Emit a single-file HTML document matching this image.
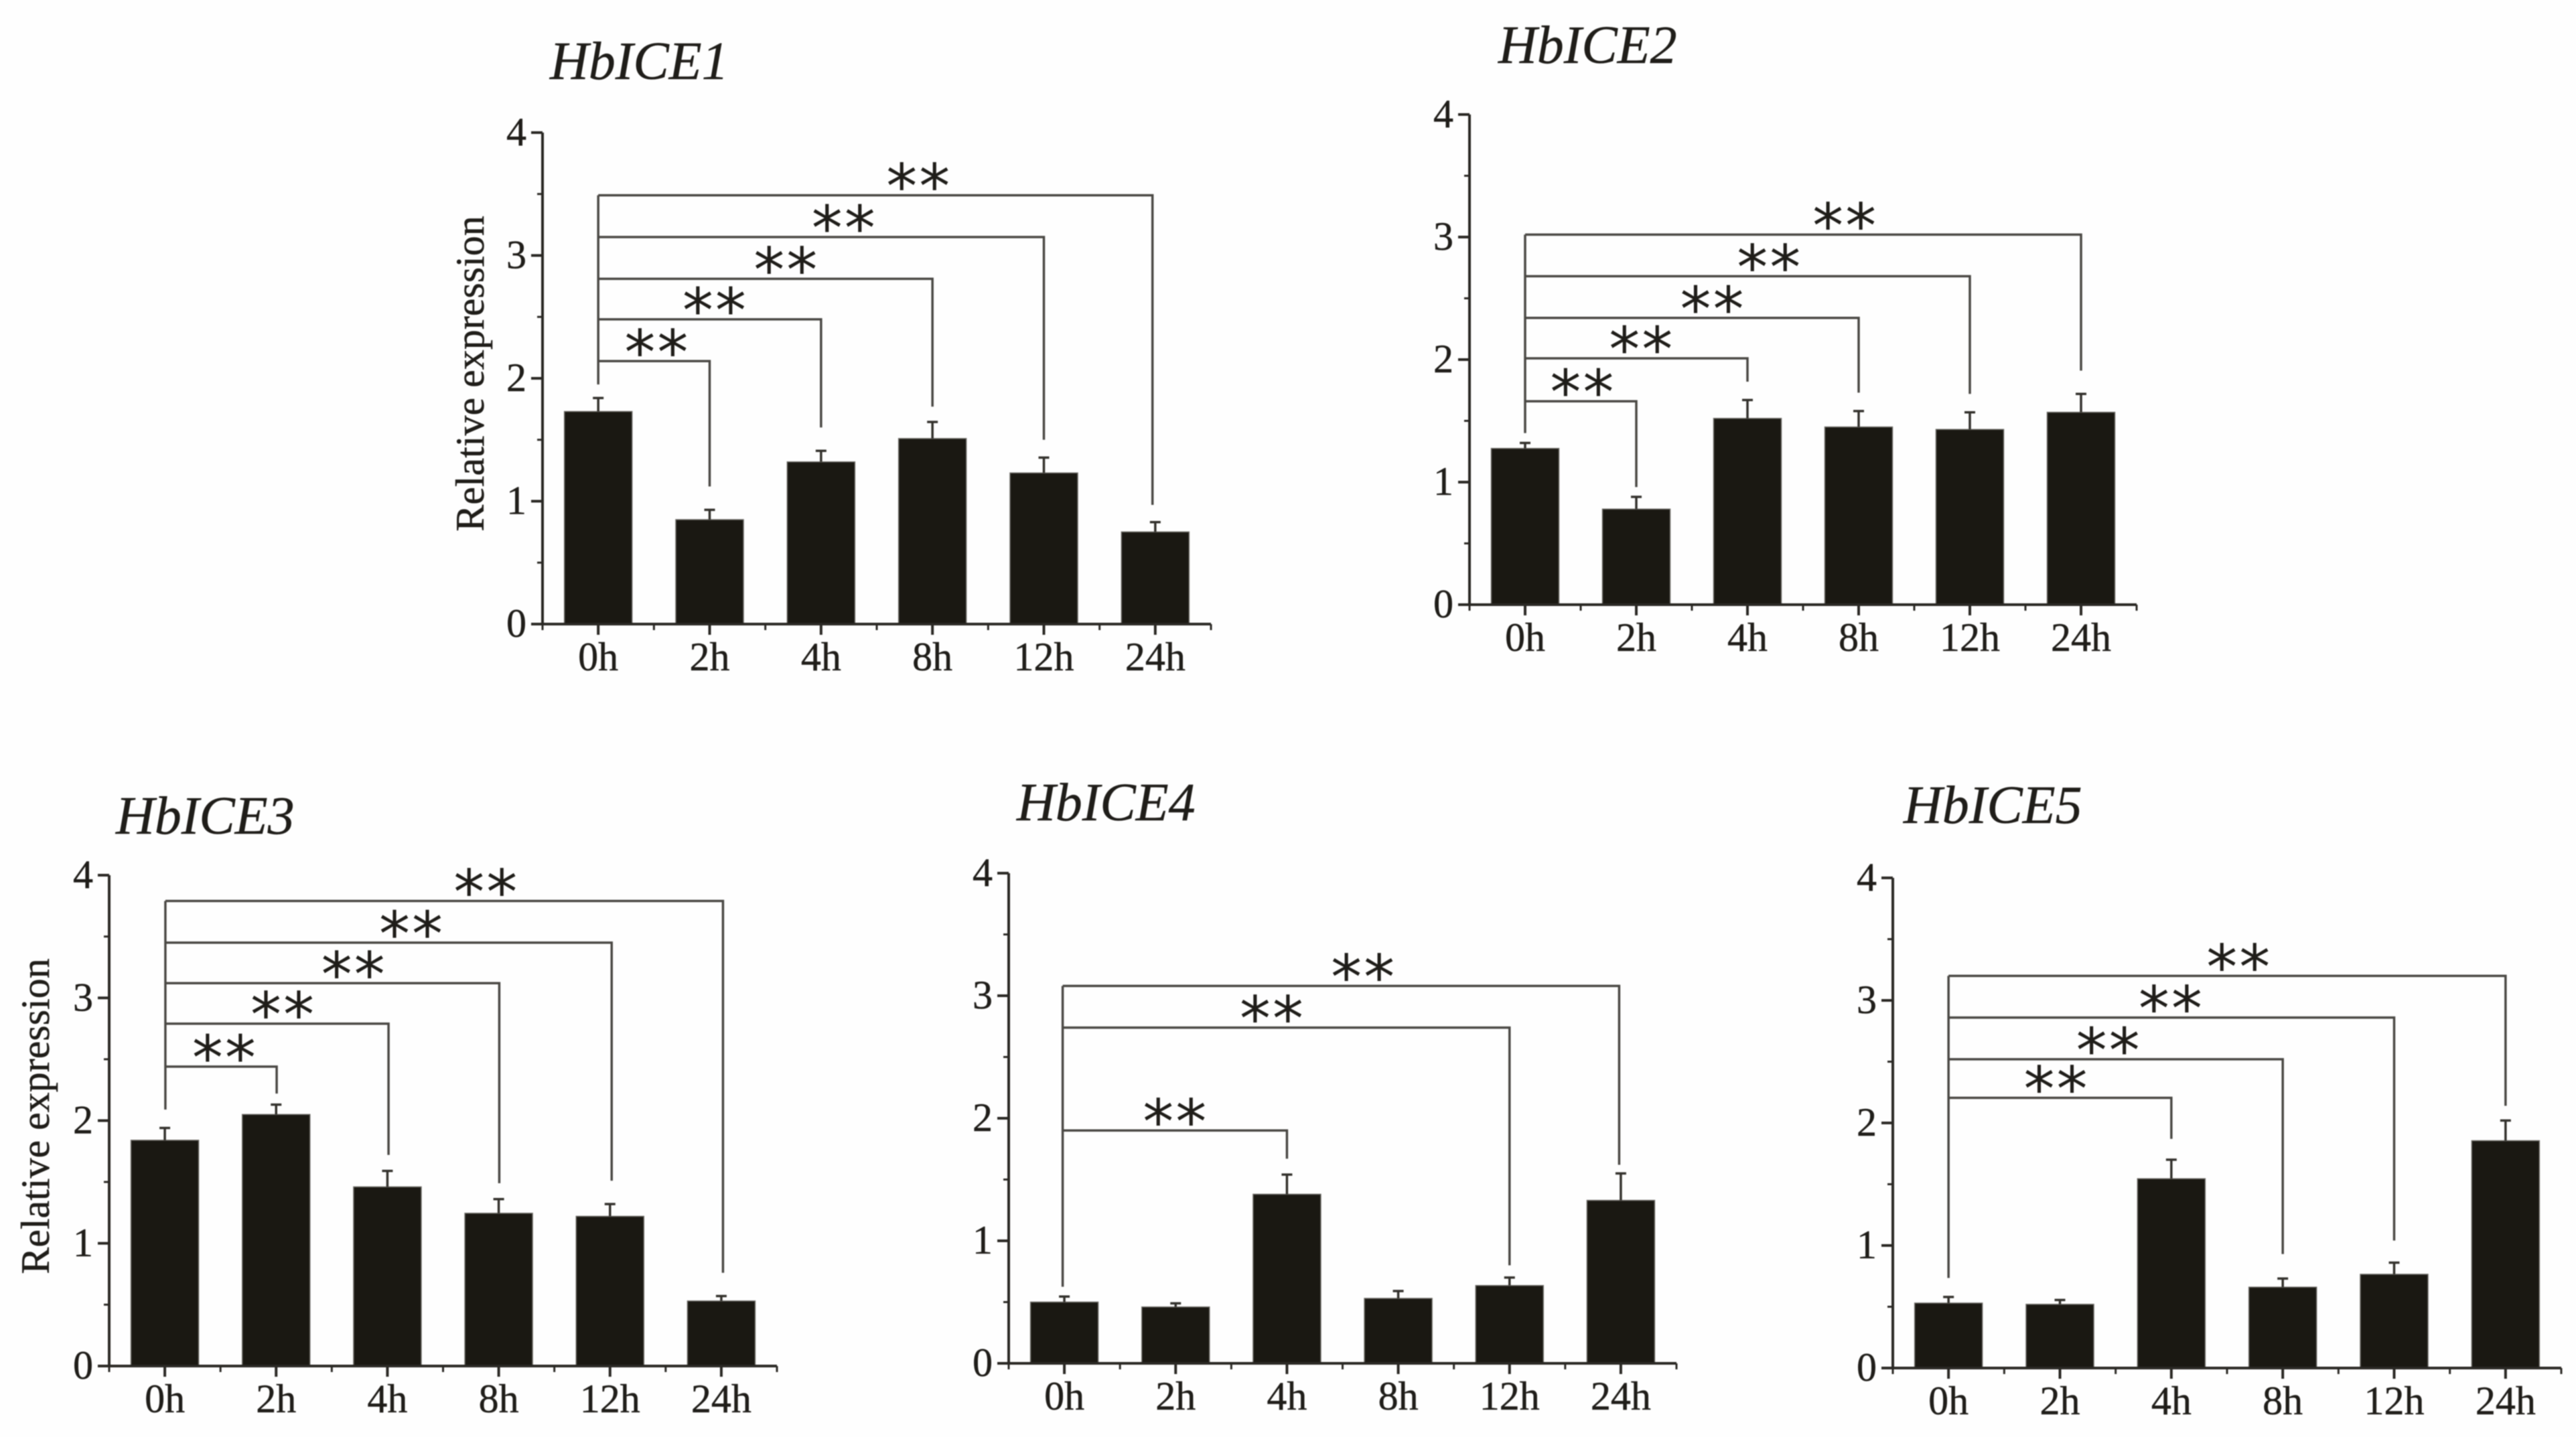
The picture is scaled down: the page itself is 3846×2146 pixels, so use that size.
<!DOCTYPE html>
<html lang="en">
<head>
<meta charset="utf-8">
<title>HbICE relative expression charts</title>
<style>
  html, body { margin: 0; padding: 0; background: #fefefe; }
  body { width: 3846px; height: 2146px; overflow: hidden; }
  svg { display: block; filter: blur(0.9px); }
  text { font-family: "Liberation Serif", "Times New Roman", serif; fill: #1f1d19; stroke: #1f1d19; stroke-width: 0.5px; }
  .title { font-size: 80px; font-style: italic; }
  .tick { font-size: 60px; }
  .ytitle { font-size: 60px; text-anchor: middle; }
  .stars { font-family: "DejaVu Sans", sans-serif; font-size: 92px; letter-spacing: 3px; text-anchor: middle; fill: #1f1d19; stroke: none; }
</style>
</head>
<body>
<svg id="figure" width="3846" height="2146" viewBox="0 0 3846 2146" xmlns="http://www.w3.org/2000/svg">
  <rect width="3846" height="2146" fill="#fefefe"/>
  <g id="p1">
    <text class="title" x="821" y="118">HbICE1</text>
    <text class="ytitle" transform="translate(722 558) rotate(-90)">Relative expression</text>
  </g>
  <g id="p2">
    <text class="title" x="2237" y="94">HbICE2</text>
  </g>
  <g id="p3">
    <text class="title" x="173" y="1245">HbICE3</text>
    <text class="ytitle" transform="translate(73 1667) rotate(-90)">Relative expression</text>
  </g>
  <g id="p4">
    <text class="title" x="1518" y="1225">HbICE4</text>
  </g>
  <g id="p5">
    <text class="title" x="2842" y="1229">HbICE5</text>
  </g>
</svg>
<script>
const categories = ['0h', '2h', '4h', '8h', '12h', '24h'];
const yTickLabels = [0, 1, 2, 3, 4];
const yMinorTicks = [0.5, 1.5, 2.5, 3.5];
const significanceLabel = '**';

const ice1Values = [1.73, 0.85, 1.32, 1.51, 1.23, 0.75];
const ice1Errors = [0.11, 0.08, 0.09, 0.135, 0.125, 0.08];
const ice1Targets = [1, 2, 3, 4, 4.975];
const ice1Levels = [2.14, 2.48, 2.81, 3.15, 3.49];
const ice1StemEnds = [1.12, 1.60, 1.77, 1.50, 0.97];
const ice1Start = 0;
const ice1StartEnd = 1.95;
const ice1StarPositions = [0.53, 1.05, 1.69, 2.21, 2.88];

const ice2Values = [1.275, 0.78, 1.52, 1.45, 1.43, 1.57];
const ice2Errors = [0.045, 0.10, 0.15, 0.13, 0.14, 0.15];
const ice2Targets = [1, 2, 3, 4, 5];
const ice2Levels = [1.66, 2.01, 2.34, 2.68, 3.02];
const ice2StemEnds = [0.96, 1.82, 1.73, 1.72, 1.91];
const ice2Start = 0;
const ice2StartEnd = 1.40;
const ice2StarPositions = [0.52, 1.05, 1.69, 2.20, 2.88];

const ice3Values = [1.84, 2.05, 1.46, 1.245, 1.22, 0.53];
const ice3Errors = [0.10, 0.08, 0.13, 0.115, 0.10, 0.04];
const ice3Targets = [1.005, 2.01, 3.005, 4.015, 5.015];
const ice3Levels = [2.44, 2.79, 3.12, 3.45, 3.79];
const ice3StemEnds = [2.22, 1.72, 1.49, 1.51, 0.76];
const ice3Start = 0.005;
const ice3StartEnd = 2.09;
const ice3StarPositions = [0.54, 1.065, 1.70, 2.22, 2.89];

const ice4Values = [0.50, 0.46, 1.38, 0.53, 0.635, 1.33];
const ice4Errors = [0.045, 0.03, 0.16, 0.06, 0.065, 0.22];
const ice4Targets = [2, 4, 4.985];
const ice4Levels = [1.90, 2.74, 3.08];
const ice4StemEnds = [1.67, 0.80, 1.62];
const ice4Start = -0.015;
const ice4StartEnd = 0.625;
const ice4StarPositions = [1.0, 1.87, 2.69];

const ice5Values = [0.53, 0.52, 1.545, 0.66, 0.765, 1.855];
const ice5Errors = [0.05, 0.035, 0.155, 0.07, 0.095, 0.165];
const ice5Targets = [2, 3, 4, 5];
const ice5Levels = [2.205, 2.52, 2.86, 3.20];
const ice5StemEnds = [1.87, 0.93, 1.04, 2.14];
const ice5Start = 0;
const ice5StartEnd = 0.735;
const ice5StarPositions = [0.97, 1.44, 2.0, 2.61];

const NS = 'http://www.w3.org/2000/svg';
const AXIS = '#2a2824';
const BRACKET = '#4a4844';
const BAR = '#1a1812';

function mk(parent, tag, attrs, txt) {
  const el = document.createElementNS(NS, tag);
  for (const k in attrs) el.setAttribute(k, attrs[k]);
  if (txt !== undefined) el.textContent = txt;
  parent.appendChild(el);
  
  return el;
}

function drawPanel(id, frame, values, errors, targets, levels, stemEnds, start, startEnd, starPositions) {
  const root = document.getElementById(id);
  const yScale = v => frame.y0 + (frame.y4 - frame.y0) * v / 4;
  const step = (frame.x1 - frame.x0) / categories.length;
  const xScale = i => frame.x0 + (i + 0.5) * step;
  const barW = 101;
  let el;

  values.forEach((v, i) => {
    el = mk(root, 'rect', { x: xScale(i) - barW / 2, y: yScale(v), width: barW, height: frame.y0 - yScale(v), fill: BAR, stroke: '#6b6964', 'stroke-width': 1.5 });
    
    const top = yScale(v + errors[i]);
    el = mk(root, 'path', { d: 'M' + xScale(i) + ' ' + yScale(v) + 'V' + top + 'M' + (xScale(i) - 8) + ' ' + top + 'H' + (xScale(i) + 8), fill: 'none', stroke: '#33312c', 'stroke-width': 3.5 });
    
  });

  el = mk(root, 'path', { d: 'M' + frame.x0 + ' ' + frame.y4 + 'V' + frame.y0 + 'H' + frame.x1, fill: 'none', stroke: AXIS, 'stroke-width': 4 });
  

  yTickLabels.forEach(v => {
    const y = yScale(v);
    el = mk(root, 'line', { x1: frame.x0 - 17, x2: frame.x0, y1: y, y2: y, stroke: AXIS, 'stroke-width': 4 });
    
    el = mk(root, 'text', { class: 'tick', x: frame.x0 - 24, y: y + 19, 'text-anchor': 'end' }, String(v));
    
  });
  yMinorTicks.forEach(v => {
    const y = yScale(v);
    el = mk(root, 'line', { x1: frame.x0 - 8, x2: frame.x0, y1: y, y2: y, stroke: AXIS, 'stroke-width': 3 });
    
  });

  categories.forEach((c, i) => {
    const x = xScale(i);
    el = mk(root, 'line', { x1: x, x2: x, y1: frame.y0, y2: frame.y0 + 16, stroke: AXIS, 'stroke-width': 4 });
    
    el = mk(root, 'text', { class: 'tick', x: x, y: frame.y0 + 69, 'text-anchor': 'middle' }, c);
    
  });
  for (let i = 0; i <= categories.length; i++) {
    const x = frame.x0 + i * step;
    el = mk(root, 'line', { x1: x, x2: x, y1: frame.y0, y2: frame.y0 + 9, stroke: AXIS, 'stroke-width': 3 });
    
  }

  const startX = xScale(start);
  const topLevel = Math.max.apply(null, levels);
  el = mk(root, 'line', { x1: startX, x2: startX, y1: yScale(topLevel), y2: yScale(startEnd), stroke: BRACKET, 'stroke-width': 3.5 });
  

  targets.forEach((t, i) => {
    const x = xScale(t);
    const y = yScale(levels[i]);
    const targetName = categories[Math.round(t)];
    el = mk(root, 'path', { d: 'M' + startX + ' ' + y + 'H' + x + 'V' + yScale(stemEnds[i]), fill: 'none', stroke: BRACKET, 'stroke-width': 3.5 });
    
    el = mk(root, 'text', { class: 'stars', x: xScale(starPositions[i]), y: y + 19 }, significanceLabel);
    
  });
}

drawPanel('p1', { x0: 810, x1: 1808, y0: 932, y4: 198 }, ice1Values, ice1Errors, ice1Targets, ice1Levels, ice1StemEnds, ice1Start, ice1StartEnd, ice1StarPositions);
drawPanel('p2', { x0: 2194, x1: 3190, y0: 903, y4: 171 }, ice2Values, ice2Errors, ice2Targets, ice2Levels, ice2StemEnds, ice2Start, ice2StartEnd, ice2StarPositions);
drawPanel('p3', { x0: 163, x1: 1160, y0: 2040, y4: 1307 }, ice3Values, ice3Errors, ice3Targets, ice3Levels, ice3StemEnds, ice3Start, ice3StartEnd, ice3StarPositions);
drawPanel('p4', { x0: 1506, x1: 2503, y0: 2036, y4: 1304 }, ice4Values, ice4Errors, ice4Targets, ice4Levels, ice4StemEnds, ice4Start, ice4StartEnd, ice4StarPositions);
drawPanel('p5', { x0: 2826, x1: 3824, y0: 2043, y4: 1311 }, ice5Values, ice5Errors, ice5Targets, ice5Levels, ice5StemEnds, ice5Start, ice5StartEnd, ice5StarPositions);
</script>
</body>
</html>
